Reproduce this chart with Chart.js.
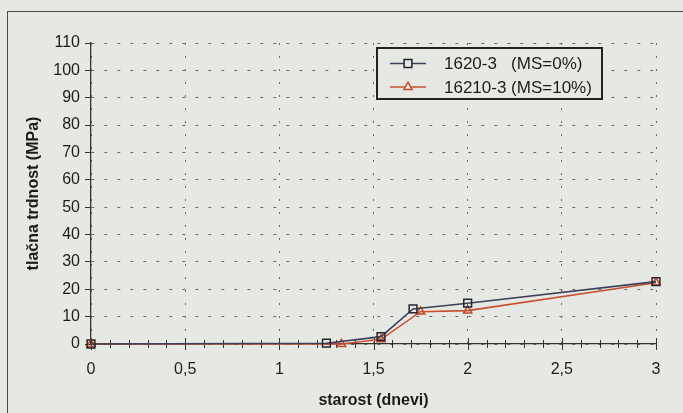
<!DOCTYPE html>
<html>
<head>
<meta charset="utf-8">
<script src="https://cdn.jsdelivr.net/npm/chart.js@4"></script>
<style>
    html, body { margin: 0; padding: 0; background: #e6e9e3; overflow: hidden; }
    #wrap { position: relative; width: 683px; height: 413px; }
    #frame { position: absolute; left: 7px; top: 11px; width: 700px; height: 420px;
             border-left: 1px solid #4a4a4a; border-top: 1px solid #4a4a4a; }
    canvas { position: absolute; left: 0; top: 0; }
</style>
</head>
<body>
<div id="wrap">
    <div id="frame"></div>
    <canvas id="chart" width="683" height="413"></canvas>
</div>
<script>
// data
const seriesNames = ['1620-3   (MS=0%)', '16210-3 (MS=10%)'];
const daysMs0 = [0, 1.25, 1.54, 1.71, 2, 3];
const strengthMs0 = [0, 0.3, 2.7, 12.8, 14.9, 22.8];
const daysMs10 = [0, 1.33, 1.54, 1.75, 2, 3];
const strengthMs10 = [0, 0, 1.7, 11.8, 12.2, 22.4];
const xTickLabels = ['0', '0,5', '1', '1,5', '2', '2,5', '3'];
const yTickLabels = ['0', '10', '20', '30', '40', '50', '60', '70', '80', '90', '100', '110'];

const bg = '#e6e9e3';
const ink = '#1c1c1c';
const fontFamily = '"Liberation Sans", Arial, sans-serif';

function toPoints(xs, ys) {
    return xs.map((x, i) => ({ x: x, y: ys[i] }));
}

// crossing minor/major ticks on the x axis
const crossTicks = {
    id: 'crossTicks',
    beforeDatasetsDraw(chart) {
        const ctx = chart.ctx;
        const xs = chart.scales.x;
        const y0 = chart.chartArea.bottom;
        ctx.save();
        ctx.strokeStyle = '#333';
        ctx.lineWidth = 1;
        for (let i = 0; i <= 30; i++) {
            const px = Math.round(xs.getPixelForValue(i / 10)) + 0.5;
            const len = i % 5 === 0 ? 6 : 4;
            ctx.beginPath();
            ctx.moveTo(px, y0 - len);
            ctx.lineTo(px, y0 + len);
            ctx.stroke();
        }
        ctx.restore();
    }
};

// boxed legend with line + marker samples
const boxLegend = {
    id: 'boxLegend',
    afterDraw(chart) {
        const ctx = chart.ctx;
        const left = 377, top = 48, w = 225, h = 51;
        ctx.save();
        ctx.fillStyle = bg;
        ctx.fillRect(left, top, w, h);
        ctx.strokeStyle = '#222';
        ctx.lineWidth = 2;
        ctx.strokeRect(left, top, w, h);
        chart.data.datasets.forEach((ds, i) => {
            const y = top + 15.5 + i * 23.5;
            ctx.strokeStyle = ds.borderColor;
            ctx.lineWidth = 1.5;
            ctx.beginPath();
            ctx.moveTo(390, y);
            ctx.lineTo(426, y);
            ctx.stroke();
            ctx.fillStyle = bg;
            ctx.strokeStyle = ds.pointBorderColor;
            ctx.lineWidth = 1.5;
            Chart.helpers.drawPoint(ctx, {
                pointStyle: ds.pointStyle,
                radius: ds.pointRadius,
                borderWidth: 1.5,
                rotation: 0
            }, 408, y);
            ctx.fillStyle = ink;
            ctx.font = '17px ' + fontFamily;
            ctx.textBaseline = 'middle';
            ctx.textAlign = 'left';
            ctx.fillText(ds.label, 444, y + 1);
        });
        ctx.restore();
    }
};

const ctx = document.getElementById('chart').getContext('2d');
new Chart(ctx, {
    type: 'line',
    data: {
        datasets: [{
            label: seriesNames[0],
            data: toPoints(daysMs0, strengthMs0),
            borderColor: '#3d4058',
            borderWidth: 1.6,
            pointStyle: 'rect',
            pointRadius: 5.5,
            pointBorderColor: '#25262e',
            pointBackgroundColor: 'rgba(0,0,0,0)',
            pointBorderWidth: 1.5,
            tension: 0,
            clip: false
        }, {
            label: seriesNames[1],
            data: toPoints(daysMs10, strengthMs10),
            borderColor: '#c9502e',
            borderWidth: 1.6,
            pointStyle: 'triangle',
            pointRadius: 4.8,
            pointBorderColor: '#c44a28',
            pointBackgroundColor: 'rgba(0,0,0,0)',
            pointBorderWidth: 1.5,
            tension: 0,
            clip: false
        }]
    },
    options: {
        responsive: false,
        animation: false,
        events: [],
        layout: { padding: { top: 43, right: 27, left: 0, bottom: 0 } },
        scales: {
            x: {
                type: 'linear',
                min: 0,
                max: 3,
                afterFit: function(scale) { scale.height = 69; },
                ticks: {
                    stepSize: 0.5,
                    padding: 16,
                    color: ink,
                    font: { family: fontFamily, size: 16 },
                    callback: function(value) {
                        return xTickLabels[Math.round(value * 2)];
                    }
                },
                grid: {
                    color: '#6a6a6a',
                    lineWidth: 1,
                    drawTicks: false
                },
                border: { display: true, color: '#333', width: 1.3, dash: [2, 11] },
                title: {
                    display: true,
                    text: 'starost (dnevi)',
                    color: ink,
                    font: { family: fontFamily, size: 16, weight: 'bold' },
                    padding: { top: 0, bottom: 3 }
                }
            },
            y: {
                min: 0,
                max: 110,
                afterFit: function(scale) { scale.width = 91; },
                ticks: {
                    stepSize: 10,
                    padding: 5,
                    color: ink,
                    font: { family: fontFamily, size: 16 },
                    callback: function(value) {
                        return yTickLabels[Math.round(value / 10)];
                    }
                },
                grid: {
                    color: '#6a6a6a',
                    lineWidth: 1,
                    tickLength: 6,
                    tickColor: '#333',
                    tickWidth: 1
                },
                border: { display: true, color: '#333', width: 1.3, dash: [3, 10] },
                title: {
                    display: true,
                    text: 'tlačna trdnost (MPa)',
                    color: ink,
                    font: { family: fontFamily, size: 16, weight: 'bold' },
                    padding: { top: 24, bottom: 0 }
                }
            }
        },
        plugins: {
            legend: { display: false },
            tooltip: { enabled: false }
        }
    },
    plugins: [crossTicks, boxLegend]
});
</script>
</body>
</html>
